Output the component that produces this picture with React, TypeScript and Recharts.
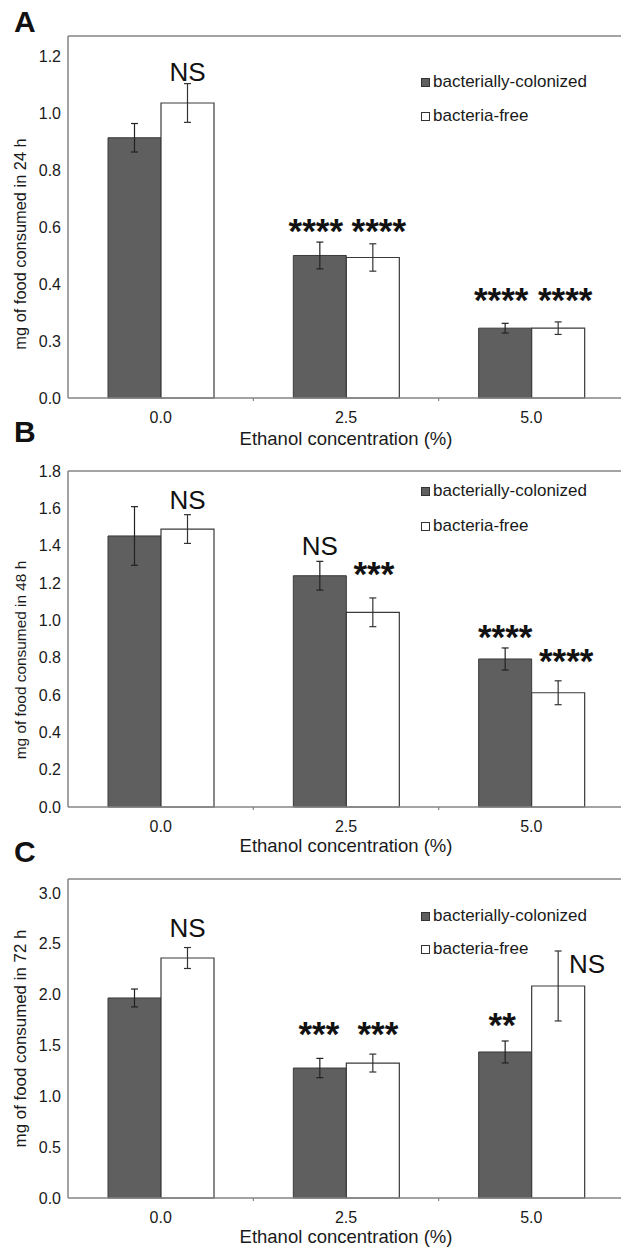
import React from 'react';
import { BarChart, Bar, XAxis, YAxis, ErrorBar, LabelList, Legend, ReferenceLine, Customized } from 'recharts';

// ---------- data ----------
const categories = ['0.0', '2.5', '5.0'];
const seriesNames = ['bacterially-colonized', 'bacteria-free'];
const xTitle = 'Ethanol concentration (%)';

// Panel A – 24 h
const colonized24 = [0.913, 0.5, 0.245];
const colonized24Err = [0.05, 0.047, 0.017];
const free24 = [1.035, 0.493, 0.245];
const free24Err = [0.068, 0.048, 0.022];
const sigColonized24 = ['', '****', '****'];
const sigColonized24Level = [0, 0.577, 0.336];
const sigFree24 = ['NS', '****', '****'];
const sigFree24Level = [1.112, 0.577, 0.336];
const yTicks24 = [0, 0.2, 0.4, 0.6, 0.8, 1.0, 1.2];
const yTickLabels24 = ['0.0', '0.3', '0.4', '0.6', '0.8', '1.0', '1.2'];
const yMax24 = 1.27;

// Panel B – 48 h
const colonized48 = [1.452, 1.239, 0.793];
const colonized48Err = [0.157, 0.077, 0.059];
const free48 = [1.489, 1.043, 0.612];
const free48Err = [0.077, 0.077, 0.064];
const sigColonized48 = ['', 'NS', '****'];
const sigColonized48Level = [0, 1.351, 0.899];
const sigFree48 = ['NS', '***', '****'];
const sigFree48Level = [1.596, 1.234, 0.766];
const yTicks48 = [0, 0.2, 0.4, 0.6, 0.8, 1.0, 1.2, 1.4, 1.6, 1.8];
const yTickLabels48 = ['0.0', '0.2', '0.4', '0.6', '0.8', '1.0', '1.2', '1.4', '1.6', '1.8'];
const yMax48 = 1.8;

// Panel C – 72 h
const colonized72 = [1.967, 1.278, 1.436];
const colonized72Err = [0.088, 0.095, 0.108];
const free72 = [2.36, 1.327, 2.085];
const free72Err = [0.103, 0.088, 0.344];
const sigColonized72 = ['', '***', '**'];
const sigColonized72Level = [0, 1.583, 1.681];
const sigFree72 = ['NS', '***', 'NS'];
const sigFree72Level = [2.566, 1.583, 2.212];
const yTicks72 = [0, 0.5, 1.0, 1.5, 2.0, 2.5, 3.0];
const yTickLabels72 = ['0.0', '0.5', '1.0', '1.5', '2.0', '2.5', '3.0'];
const yMax72 = 3.137;

// ---------- styles ----------
const FONT = '"Liberation Sans", Arial, sans-serif';
const TEXT = '#1a1a1a';
const AXIS = '#858585';
const DARK = '#5f5f5f';
const CHART_W = 640;
const M_LEFT = 8;
const M_RIGHT = 16;
const Y_W = 60;
const HALF_BAND = (CHART_W - M_LEFT - M_RIGHT - Y_W) / categories.length / 2;

type PanelCfg = {
  letter: string;
  yTitle: string;
  top: number;
  height: number;
  mTop: number;
  mBottom: number;
  yTitleSize: number;
  yTitleShift: number;
  xTitleOffset: number;
  legendTop: number;
  legendRow: number;
  col: number[]; colErr: number[];
  free: number[]; freeErr: number[];
  sigCol: string[]; sigColLevel: number[];
  sigFree: string[]; sigFreeLevel: number[];
  colNudge: number[];
  freeNudge: number[];
  ticks: number[]; tickLabels: string[]; max: number;
};

const panels: PanelCfg[] = [
  {
    letter: 'A', yTitle: 'mg of food consumed in 24 h', top: 0, height: 460, mTop: 36, mBottom: 12,
    yTitleSize: 16.4, yTitleShift: 27, xTitleOffset: 3.5, legendTop: 65, legendRow: 34,
    col: colonized24, colErr: colonized24Err, free: free24, freeErr: free24Err,
    sigCol: sigColonized24, sigColLevel: sigColonized24Level, sigFree: sigFree24, sigFreeLevel: sigFree24Level,
    colNudge: [0, -4, -4], freeNudge: [0, 6, 7],
    ticks: yTicks24, tickLabels: yTickLabels24, max: yMax24,
  },
  {
    letter: 'B', yTitle: 'mg of food consumed in 48 h', top: 410, height: 460, mTop: 61, mBottom: 13,
    yTitleSize: 15.4, yTitleShift: 21, xTitleOffset: 5, legendTop: 63.5, legendRow: 35,
    col: colonized48, colErr: colonized48Err, free: free48, freeErr: free48Err,
    sigCol: sigColonized48, sigColLevel: sigColonized48Level, sigFree: sigFree48, sigFreeLevel: sigFree48Level,
    colNudge: [0, 0, 0], freeNudge: [0, 1, 8],
    ticks: yTicks48, tickLabels: yTickLabels48, max: yMax48,
  },
  {
    letter: 'C', yTitle: 'mg of food consumed in 72 h', top: 830, height: 421, mTop: 49, mBottom: 3,
    yTitleSize: 16.9, yTitleShift: 0, xTitleOffset: 5, legendTop: 69.5, legendRow: 33,
    col: colonized72, colErr: colonized72Err, free: free72, freeErr: free72Err,
    sigCol: sigColonized72, sigColLevel: sigColonized72Level, sigFree: sigFree72, sigFreeLevel: sigFree72Level,
    colNudge: [0, -1, -3], freeNudge: [0, 5, 29],
    ticks: yTicks72, tickLabels: yTickLabels72, max: yMax72,
  },
];

const makeSig = (values: number[], levels: number[], nudges: number[]) => (props: any) => {
  const index = props.index;
  const value = props.value;
  if (!value || index == null) return null;
  const vb = props.viewBox && props.viewBox.height != null ? props.viewBox : props;
  const { x, y, width, height } = vb;
  const v = values[index];
  const lvl = levels[index];
  const py = y + height - (height * lvl) / v;
  const stars = String(value).startsWith('*');
  const fs = stars ? 35 : 26;
  const baseline = stars ? py + 0.27 * fs : py;
  return (
    <text
      x={x + width / 2 + (nudges[index] || 0)}
      y={baseline}
      textAnchor="middle"
      fontSize={fs}
      fontWeight={stars ? 'bold' : 'normal'}
      fontFamily={FONT}
      fill="#111"
    >
      {value}
    </text>
  );
};

const PanelLetter = ({ letter }: { letter: string }) => (
  <text x={14} y={32} fontSize={30} fontWeight="bold" fontFamily={FONT} fill="#111">
    {letter}
  </text>
);

const XTick = (p: any) => {
  const off = p.payload && p.payload.offset ? p.payload.offset : HALF_BAND;
  return (
    <g>
      <text x={p.x} y={p.y + 25} textAnchor="middle" fontSize={16} fontFamily={FONT} fill={TEXT}>
        {p.payload.value}
      </text>
      {p.index < categories.length - 1 ? (
        <line x1={p.x + off} x2={p.x + off} y1={p.y} y2={p.y + 3} stroke={AXIS} strokeWidth={1.2} />
      ) : null}
    </g>
  );
};

const makeLegend = (rowH: number) => (props: any) => {
  const payload = [...(props.payload || [])].sort(
    (a: any, b: any) => seriesNames.indexOf(a.value) - seriesNames.indexOf(b.value)
  );
  return (
    <div style={{ fontFamily: FONT, fontSize: 17, color: TEXT }}>
      {payload.map((e: any, i: number) => (
        <div key={i} style={{ display: 'flex', alignItems: 'center', height: rowH, whiteSpace: 'nowrap' }}>
          <span
            style={{
              display: 'inline-block', width: 9, height: 9, boxSizing: 'border-box',
              background: e.color, border: '1px solid #333', marginRight: 3,
            }}
          />
          {e.value}
        </div>
      ))}
    </div>
  );
};

const Panel = ({ cfg }: { cfg: PanelCfg }) => {
  const data = categories.map((c, i) => ({
    cat: c,
    col: cfg.col[i], colErr: cfg.colErr[i],
    free: cfg.free[i], freeErr: cfg.freeErr[i],
    sigCol: cfg.sigCol[i], sigFree: cfg.sigFree[i],
  }));
  const yTitle = (p: any) => {
    const vb = p.viewBox || { x: M_LEFT, y: cfg.mTop, width: Y_W, height: 300 };
    const cx = vb.x + 12;
    const cy = vb.y + vb.height / 2 + cfg.yTitleShift;
    return (
      <text
        x={cx} y={cy} transform={`rotate(-90 ${cx} ${cy})`} textAnchor="middle" dominantBaseline="central"
        fontSize={cfg.yTitleSize} fontFamily={FONT} fill={TEXT}
      >
        {cfg.yTitle}
      </text>
    );
  };
  return (
    <div style={{ position: 'absolute', left: 0, top: cfg.top }}>
      <BarChart
        width={CHART_W}
        height={cfg.height}
        data={data}
        margin={{ top: cfg.mTop, right: M_RIGHT, bottom: cfg.mBottom, left: M_LEFT }}
        barGap={0}
        barSize={53}
      >
        <XAxis
          dataKey="cat"
          height={50}
          axisLine={{ stroke: AXIS, strokeWidth: 1.5 }}
          tickLine={false}
          tickSize={0}
          tickMargin={0}
          tick={<XTick />}
          interval={0}
          label={{ value: xTitle, position: 'insideBottom', offset: cfg.xTitleOffset, fontSize: 18.5, fill: TEXT, fontFamily: FONT }}
        />
        <YAxis
          type="number"
          domain={[0, cfg.max]}
          ticks={cfg.ticks}
          interval={0}
          width={Y_W}
          axisLine={{ stroke: AXIS, strokeWidth: 1.5 }}
          tickLine={false}
          tickSize={0}
          tickMargin={7}
          tick={{ fontSize: 16, fill: TEXT, fontFamily: FONT }}
          tickFormatter={(v: number) => {
            const k = cfg.ticks.findIndex((t) => Math.abs(t - v) < 1e-9);
            return k >= 0 ? cfg.tickLabels[k] : String(v);
          }}
          label={{ content: yTitle }}
        />
        <ReferenceLine y={cfg.max} stroke={AXIS} strokeWidth={1.5} />
        <Bar dataKey="col" name={seriesNames[0]} fill={DARK} stroke="#3a3a3a" strokeWidth={1} isAnimationActive={false}>
          <ErrorBar dataKey="colErr" width={3.5} stroke="#222" strokeWidth={1.2} />
          <LabelList dataKey="sigCol" content={makeSig(cfg.col, cfg.sigColLevel, cfg.colNudge)} />
        </Bar>
        <Bar dataKey="free" name={seriesNames[1]} fill="#ffffff" stroke="#3a3a3a" strokeWidth={1.2} isAnimationActive={false}>
          <ErrorBar dataKey="freeErr" width={3.5} stroke="#333" strokeWidth={1.2} />
          <LabelList dataKey="sigFree" content={makeSig(cfg.free, cfg.sigFreeLevel, cfg.freeNudge)} />
        </Bar>
        <Legend
          layout="vertical"
          align="center"
          verticalAlign="middle"
          itemSorter="dataKey"
          content={makeLegend(cfg.legendRow)}
          wrapperStyle={{ left: 421, top: cfg.legendTop, width: 'auto' }}
        />
        <Customized component={<PanelLetter letter={cfg.letter} />} />
      </BarChart>
    </div>
  );
}

export default function App() {
  return (
    <div
      style={{
        position: 'absolute', left: 0, top: 0, width: 621, height: 1251,
        overflow: 'hidden', background: '#ffffff',
      }}
    >
      {panels.map((p) => (
        <Panel key={p.letter} cfg={p} />
      ))}
    </div>
  );
}
